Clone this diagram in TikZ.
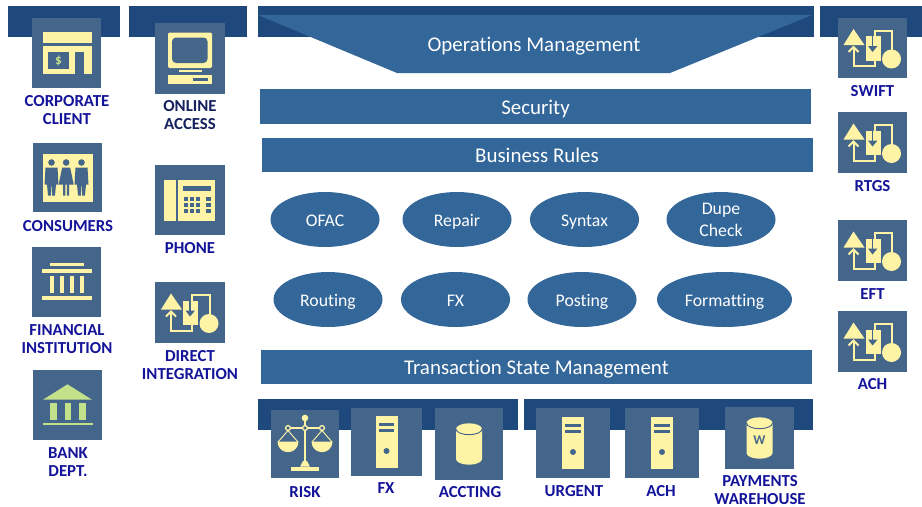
\documentclass[tikz,border=0pt]{standalone}
\usepackage{fontspec}
\setmainfont[Ligatures=NoCommon]{Carlito}
\usetikzlibrary{shapes.geometric}
\definecolor{bar colour}{HTML}{1F497D}
\definecolor{band colour}{HTML}{336699}
\definecolor{tile colour}{HTML}{44668A}
\definecolor{icon colour}{HTML}{FFF3A6}
\definecolor{leaf colour}{HTML}{C3E08A}
\definecolor{label colour}{HTML}{14149A}
\definecolor{navy colour}{HTML}{15205E}
\tikzset{
    % Fills
    bar fill/.style={fill=bar colour},
    band fill/.style={fill=band colour},
    icon fill/.style={fill=icon colour},
    dark fill/.style={fill=tile colour},
    leaf fill/.style={fill=leaf colour},
    % Sizes are given in pixels of the reference
    band/.style args={#1/#2}{
        rectangle, band fill, text=white, inner sep=0,
        text height=12.5pt, text depth=0pt,
        minimum width=#1*0.75pt, minimum height=#2*0.75pt,
        font=\fontsize{15.7}{18}\selectfont},
    oval/.style args={#1/#2}{
        ellipse, band fill, text=white, inner sep=0, align=center,
        text height=10.5pt, text depth=0pt,
        minimum width=#1*0.75pt, minimum height=#2*0.75pt,
        font=\fontsize{13.3}{16.5}\selectfont},
    tile/.style args={#1/#2}{
        rectangle, fill=tile colour, inner sep=0,
        minimum width=#1*0.75pt, minimum height=#2*0.75pt},
    caption/.style={
        text=label colour, align=center, inner sep=0,
        font=\fontsize{12.6}{13.5}\bfseries\selectfont},
    % Icons, drawn round the centre of their tile
    pics/shop/.style={
        code={
            \path [icon fill] (-24,-21) rectangle (25,-10);
            \path [icon fill] (-24,-7) rectangle (25,21);
            \path [dark fill] (-19,-1) rectangle (2,16);
            \path [dark fill] (8,-1) rectangle (17,21);
            \node [text=leaf colour, inner sep=0,
                font=\fontsize{10}{10}\bfseries\selectfont] at (-8,7.5) {\$};}},
    pics/crowd/.style={
        code={
            \path [icon fill] (-25,-23.7) rectangle (25,24);}},
    pics/person/.style={
        code={
            \path [dark fill] (0,-15) circle (3.3);
            \path [dark fill] (-6,-10) -- (6,-10) -- (7,7) -- (4.5,7) -- (3.5,18)
                -- (0.7,18) -- (0,4) -- (-0.7,18) -- (-3.5,18) -- (-4.5,7) -- (-7,7) -- cycle;}},
    pics/womanperson/.style={
        code={
            \path [dark fill] (0,-15) circle (3.3);
            \path [dark fill] (-4,-10) -- (4,-10) -- (7.5,7) -- (3,7) -- (3,18)
                -- (0.7,18) -- (0.7,7) -- (-0.7,7) -- (-0.7,18) -- (-3,18) -- (-3,7) -- (-7.5,7) -- cycle;}},
    pics/screen/.style={
        code={
            \path [icon fill, rounded corners=1] (-22,-26) rectangle (22,9.5);
            \path [dark fill, rounded corners=3] (-18,-21) rectangle (17.5,4.5);
            \path [icon fill] (-11.5,11) rectangle (12,13.5);
            \path [icon fill] (-22,16) rectangle (22,25.5);
            \path [dark fill] (2.5,19) rectangle (17.5,22);}},
    pics/handset/.style={
        code={
            \path [icon fill] (-26,-20) rectangle (-14,20.7);
            \path [icon fill] (-12,-20) rectangle (25,20.7);
            \path [dark fill] (-7,-14.5) rectangle (21,-9);
            \foreach \keyx in {-6,0,5.8,16.3}
                \foreach \keyy in {-3.3,3,9}
                    \path [dark fill] (\keyx,\keyy) rectangle +(4.4,4);}},
    pics/hall/.style={
        code={
            \path [icon fill] (-17,-18.7) rectangle (17.8,-16);
            \path [icon fill] (-25,-13.3) rectangle (25.5,-9.3);
            \foreach \colx in {-17,-6.8,3.2,13.5}
                \path [icon fill] (\colx,-6.3) rectangle +(4.3,17.6);
            \path [icon fill] (-25,14.3) rectangle (25.5,17.7);}},
    pics/bank/.style={
        code={
            \path [leaf fill] (-24.5,-5.3) -- (0,-20.7) -- (24.5,-5.3) -- cycle;
            \foreach \colx in {-17.5,-3,11.5}
                \path [leaf fill] (\colx,-2.3) rectangle +(6.5,17.6);
            \path [leaf fill] (-25,17.7) rectangle (25.5,20.3);}},
    pics/flow/.style={
        code={
            \path [icon fill] (-29,-3) -- (-19,-19) -- (-8,-3) -- cycle;
            \draw [icon colour, line width=1.5pt] (-24,4) -- (-19,-1) -- (-14,4);
            \draw [icon colour, line width=1.5pt] (-19,-1) -- (-19,18) -- (2,18) -- (2,10);
            \draw [icon colour, line width=1.5pt] (2,-10) -- (2,-17.5) -- (19.5,-17.5) -- (19.5,5);
            \path [icon fill] (-7,-12) rectangle (8,12.5);
            \draw [tile colour, line width=1pt] (0,-12) -- (0,0);
            \path [dark fill] (-4.5,-2) -- (5,-2) -- (0,4) -- cycle;
            \path [icon fill] (19,11) circle (9.5);}},
    pics/server/.style={
        code={
            \path [icon fill] (-11,-26) rectangle (11,26);
            \path [dark fill] (-7.7,-19) rectangle (7.5,-16);
            \path [dark fill] (-7.7,-13.3) rectangle (7.5,-10);
            \path [dark fill] (0,9) circle (3);}},
    pics/drum/.style={
        code={
            \path [icon fill] (-13,-15) arc [start angle=180, end angle=0,
                    x radius=13, y radius=-5.7]
                -- (13,15) arc [start angle=0, end angle=-180,
                    x radius=13, y radius=-5.7] -- cycle;
            \draw [tile colour, line width=0.7pt] (-13,-15) arc [start angle=180,
                end angle=360, x radius=13, y radius=-5.7];}},
    pics/scales/.style={
        code={
            \path [icon fill] (0,-26) circle (3.3);
            \path [icon fill] (-1.3,-26) rectangle (1.3,19);
            \path [icon fill] (-17,-16.8) rectangle (17,-15);
            \foreach \panx in {-17,0,17}
                \draw [icon colour, fill=tile colour, line width=1pt] (\panx,-16) circle (2.4);
            \foreach \panx in {-17,17} {
                \draw [icon colour, line width=0.7pt] (\panx-10,-2) -- (\panx,-13.5) -- (\panx+10,-2);
                \path [icon fill] (\panx-10.5,-2.3) -- (\panx+10.5,-2.3)
                    arc [start angle=0, end angle=180, radius=10.5];}
            \path [icon fill] (-5,22.7) -- (-2,17) -- (2,17) -- (5,22.7) -- cycle;
            \path [icon fill] (-14,22.7) rectangle (14,26.7);}},
}
\begin{document}
\begin{tikzpicture}[x=0.75pt, y=-0.75pt]
    \useasboundingbox [fill=white] (0,0) rectangle (922,507);

    % Bars behind the tiles
    \path [bar fill] (8,6) rectangle (120,37);
    \path [bar fill] (129,6) rectangle (247,37);
    \path [bar fill] (258,6) rectangle (814,37);
    \path [bar fill] (820,6) rectangle (922,37);
    \path [bar fill] (258,399) rectangle (518,430);
    \path [bar fill] (524,399) rectangle (813,430);

    % Middle of the picture
    \path [band fill] (258,15) -- (812,15) -- (670,73) -- (397,73) -- cycle;
    \node [text=white, inner sep=0, font=\fontsize{15.7}{18}\selectfont]
        (operations) at (534,46) {Operations Management};
    \node [band=551/35] (security) at (535.5,106.5) {Security};
    \node [band=551/34] (rules) at (537,154.5) {Business Rules};
    \node [band=551/34] (state) at (536.5,366.5) {Transaction State Management};

    \node [oval=109/55] (ofac) at (325,219.5) {OFAC};
    \node [oval=109/55] (repair) at (457,219.5) {Repair};
    \node [oval=109/55] (syntax) at (584.5,219.5) {Syntax};
    \node [oval=109/55, text height=26.2pt] (dupe) at (721,219.5) {Dupe\\Check};
    \node [oval=109/55] (routing) at (328,299.5) {Routing};
    \node [oval=109/55] (fx) at (455.5,299.5) {FX};
    \node [oval=109/55] (posting) at (582,299.5) {Posting};
    \node [oval=135/55] (formatting) at (724.5,299.5) {Formatting};

    % Left column
    \node [tile=69/70] (corporate) at (66.5,53) {};
    \pic at (corporate) {shop};
    \node [caption] (corporate text) at (67,110) {CORPORATE\\CLIENT};
    \node [tile=69/69] (consumers) at (67.5,177.5) {};
    \pic at (consumers) {crowd};
    \pic at ([xshift=-12pt]consumers) {person};
    \pic at ([xshift=-1pt]consumers) {womanperson};
    \pic at ([xshift=10.5pt]consumers) {person};
    \node [caption] (consumers text) at (68,226) {CONSUMERS};
    \node [tile=69/70] (financial) at (66.5,282) {};
    \pic at (financial) {hall};
    \node [caption] (financial text) at (67,339) {FINANCIAL\\INSTITUTION};
    \node [tile=69/70] (bank) at (67.5,405) {};
    \pic at (bank) {bank};
    \node [caption] (bank text) at (68,462) {BANK\\DEPT.};

    % Second column
    \node [tile=70/71] (online) at (190,58.5) {};
    \pic at (online) {screen};
    \node [caption, text=navy colour] (online text) at (190,115) {ONLINE\\ACCESS};
    \node [tile=70/70] (phone) at (190,200) {};
    \pic at (phone) {handset};
    \node [caption] (phone text) at (190,248) {PHONE};
    \node [tile=70/61] (direct) at (190,312.5) {};
    \pic at (direct) {flow};
    \node [caption] (direct text) at (190,365) {DIRECT\\INTEGRATION};

    % Bottom row
    \node [tile=68/68] (risk) at (305,444) {};
    \pic at (risk) {scales};
    \node [caption] (risk text) at (305,492) {RISK};
    \node [tile=71/68] (fx store) at (386.5,442) {};
    \pic at (fx store) {server};
    \node [caption] (fx store text) at (386,488) {FX};
    \node [tile=68/72] (accting) at (469,444) {};
    \pic at (accting) {drum};
    \node [caption] (accting text) at (470,492) {ACCTING};
    \node [tile=74/70] (urgent) at (573,443) {};
    \pic at (urgent) {server};
    \node [caption] (urgent text) at (574,491) {URGENT};
    \node [tile=74/70] (ach store) at (662,443) {};
    \pic at (ach store) {server};
    \node [caption] (ach store text) at (661,491) {ACH};
    \node [tile=69/62] (warehouse) at (759.5,438) {};
    \pic at (warehouse) {drum};
    \node [text=tile colour, inner sep=0, font=\fontsize{10}{10}\bfseries\selectfont]
        (warehouse mark) at (759.5,440) {W};
    \node [caption] (warehouse text) at (760,490) {PAYMENTS\\WAREHOUSE};

    % Right column
    \node [tile=69/60] (swift) at (872.5,48) {};
    \pic at (swift) {flow};
    \node [caption] (swift text) at (872.5,91) {SWIFT};
    \node [tile=69/61] (rtgs) at (872.5,142.5) {};
    \pic at (rtgs) {flow};
    \node [caption] (rtgs text) at (872.5,186) {RTGS};
    \node [tile=69/61] (eft) at (872.5,250.5) {};
    \pic at (eft) {flow};
    \node [caption] (eft text) at (872.5,294) {EFT};
    \node [tile=69/61] (ach) at (872.5,341.5) {};
    \pic at (ach) {flow};
    \node [caption] (ach text) at (872.5,384) {ACH};
\end{tikzpicture}
\end{document}
